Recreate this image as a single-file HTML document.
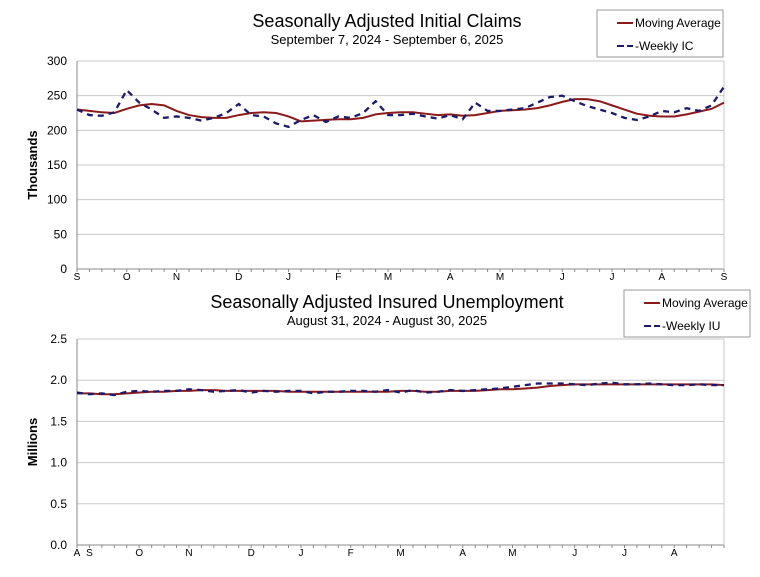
<!DOCTYPE html>
<html><head><meta charset="utf-8"><style>body{margin:0;background:#fff}svg{display:block;font-family:"Liberation Sans",sans-serif}</style></head>
<body>
<svg id="c" width="760" height="577"></svg>
<script>
const icWeekly=[230,222,221,226,258,240,230,218,220,218,214,218,225,238,222,220,210,205,215,222,212,220,218,225,242,222,222,224,220,217,222,216,240,228,228,230,232,240,248,250,242,235,230,225,218,215,220,228,226,232,228,236,263];
const icMA=[230,228,226,225,231,236,238,236,228,222,219,218,218,222,225,226,225,220,213,214,215,216,216,218,223,225,226,226,224,222,223,221,222,225,228,229,230,232,236,241,245,245,242,236,230,224,221,220,220,223,227,231,240];
const icMonths=["S","O","N","D","J","F","M","A","M","J","J","A","S"];
const icMonthIdx=[0,4,8,13,17,21,25,30,34,39,43,47,52];
const icTicks=[0,50,100,150,200,250,300];
const iuWeekly=[1.85,1.83,1.84,1.82,1.86,1.87,1.86,1.87,1.87,1.89,1.88,1.86,1.87,1.88,1.85,1.87,1.86,1.87,1.87,1.84,1.86,1.86,1.87,1.87,1.86,1.88,1.85,1.88,1.85,1.86,1.88,1.87,1.88,1.89,1.90,1.92,1.94,1.96,1.96,1.96,1.95,1.94,1.96,1.97,1.95,1.95,1.96,1.95,1.94,1.94,1.95,1.94,1.94];
const iuMA=[1.84,1.84,1.83,1.83,1.84,1.85,1.86,1.86,1.87,1.87,1.88,1.88,1.87,1.87,1.87,1.87,1.87,1.86,1.86,1.86,1.86,1.86,1.86,1.86,1.86,1.86,1.87,1.87,1.86,1.86,1.87,1.87,1.87,1.88,1.89,1.89,1.90,1.91,1.93,1.94,1.95,1.95,1.95,1.95,1.95,1.95,1.95,1.95,1.95,1.95,1.95,1.95,1.94];
const iuMonths=["A","S","O","N","D","J","F","M","A","M","J","J","A"];
const iuMonthIdx=[0,1,5,9,14,18,22,26,31,35,40,44,48];
const iuTicks=["0.0","0.5","1.0","1.5","2.0","2.5"];

const svg=document.getElementById('c');const NS='http://www.w3.org/2000/svg';
function mk(t,a,txt){const e=document.createElementNS(NS,t);for(const k in a)e.setAttribute(k,a[k]);if(txt!=null)e.textContent=txt;svg.appendChild(e);return e;}
function chart(o){
 const x=i=>o.x0+i*(o.x1-o.x0)/(o.n-1);
 const y=v=>o.yb-(v-o.ymin)/(o.ymax-o.ymin)*(o.yb-o.yt);
 o.ticks.forEach(t=>{const v=parseFloat(t);const g=mk('line',{x1:o.x0,x2:o.x1,y1:y(v),y2:y(v),stroke:v==o.ymin?'#888':'#c8c8c8','stroke-width':1});
  const l=mk('text',{x:o.x0-10,y:y(v)+4,'text-anchor':'end','font-size':12},t);});
 const ax=mk('line',{x1:o.x0,x2:o.x0,y1:o.yt,y2:o.yb,stroke:'#888'});
 const r=mk('line',{x1:o.x1,x2:o.x1,y1:o.yt,y2:o.yb,stroke:'#c8c8c8'});
 for(let i=0;i<o.n;i++){const tk=mk('line',{x1:x(i),x2:x(i),y1:o.yb,y2:o.yb+3,stroke:'#888'});}
 o.months.forEach((m,k)=>{const t=mk('text',{x:x(o.midx[k]),y:o.yb+11,'text-anchor':'middle','font-size':10},m);});
 const pm=mk('polyline',{points:o.ma.map((v,i)=>x(i)+','+y(v)).join(' '),fill:'none',stroke:'#8b1a1a','stroke-width':2});
 const pw=mk('polyline',{points:o.wk.map((v,i)=>x(i)+','+y(v)).join(' '),fill:'none',stroke:'#1a1a6e','stroke-width':2.3,'stroke-dasharray':'6,5'});
 const t1=mk('text',{x:o.tx,y:o.ty,'text-anchor':'middle','font-size':18},o.title);
 const t2=mk('text',{x:o.tx,y:o.ty+17,'text-anchor':'middle','font-size':13},o.sub);
 const yl=mk('text',{transform:`translate(${o.ylx},${(o.yt+o.yb)/2}) rotate(-90)`,'text-anchor':'middle','font-size':13,'font-weight':'bold'},o.ylab);
 const lb=mk('rect',{x:o.lx,y:o.ly,width:126,height:47,fill:'#fff',stroke:'#999'});
 const l1=mk('line',{x1:o.lx+20,x2:o.lx+36,y1:o.ly+13,y2:o.ly+13,stroke:'#8b1a1a','stroke-width':2});
 const e1=mk('text',{x:o.lx+38,y:o.ly+17,'font-size':12},'Moving Average');
 const l2=mk('line',{x1:o.lx+20,x2:o.lx+36,y1:o.ly+36,y2:o.ly+36,stroke:'#1a1a6e','stroke-width':2,'stroke-dasharray':'7,3'});
 const e2=mk('text',{x:o.lx+38,y:o.ly+40,'font-size':12},o.wlab);
}
chart({x0:77,x1:724,yt:61,yb:269,ymin:0,ymax:300,n:icWeekly.length,ticks:icTicks.map(String),months:icMonths,midx:icMonthIdx,ma:icMA,wk:icWeekly,title:'Seasonally Adjusted Initial Claims',sub:'September 7, 2024 - September 6, 2025',tx:387,ty:27,ylab:'Thousands',ylx:37,lx:597,ly:10,wlab:'-Weekly IC'});
chart({x0:77,x1:724,yt:339,yb:545,ymin:0,ymax:2.5,n:iuWeekly.length,ticks:iuTicks,months:iuMonths,midx:iuMonthIdx,ma:iuMA,wk:iuWeekly,title:'Seasonally Adjusted Insured Unemployment',sub:'August 31, 2024 - August 30, 2025',tx:387,ty:308,ylab:'Millions',ylx:37,lx:624,ly:290,wlab:'-Weekly IU'});
</script>
</body></html>
